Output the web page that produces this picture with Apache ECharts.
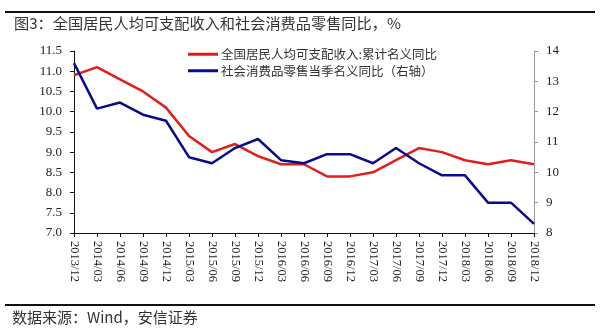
<!DOCTYPE html>
<html>
<head>
<meta charset="utf-8">
<script src="https://cdn.jsdelivr.net/npm/echarts@6/dist/echarts.min.js"></script>
<style>
html,body{margin:0;padding:0;background:#fff;}
#chart{width:600px;height:335px;}
</style>
</head>
<body>
<div id="chart"></div>
<script>
// Quarter-end categories
const quarters = ['2013/12','2014/03','2014/06','2014/09','2014/12','2015/03','2015/06','2015/09','2015/12',
  '2016/03','2016/06','2016/09','2016/12','2017/03','2017/06','2017/09','2017/12','2018/03','2018/06','2018/09','2018/12'];
// Per-capita disposable income, cumulative nominal YoY (%), left axis
const incomeYoY = [10.9,11.1,10.8,10.5,10.1,9.4,9.0,9.2,8.9,8.7,8.7,8.4,8.4,8.5,8.8,9.1,9.0,8.8,8.7,8.8,8.7];
// Retail sales of consumer goods, quarterly nominal YoY (%), right axis
const retailYoY = [13.6,12.1,12.3,11.9,11.7,10.5,10.3,10.8,11.1,10.4,10.3,10.6,10.6,10.3,10.8,10.3,9.9,9.9,9.0,9.0,8.3];

const serif = '"Liberation Serif","Noto Sans CJK SC",serif';
const cjk = '"Noto Sans CJK SC",sans-serif';

const chart = echarts.init(document.getElementById('chart'));
chart.setOption({
  animation: false,
  backgroundColor: '#fff',
  grid: {left: 74, right: 66, top: 51, bottom: 102},
  graphic: [
    {type: 'line', shape: {x1: 5, y1: 12, x2: 595, y2: 12}, style: {stroke: '#111', lineWidth: 2}},
    {type: 'text', left: 14, top: 16, style: {text: '图3：全国居民人均可支配收入和社会消费品零售同比，%', font: '15.2px ' + cjk, fill: '#333'}},
    {type: 'line', shape: {x1: 5, y1: 305, x2: 595, y2: 305}, style: {stroke: '#111', lineWidth: 2}},
    {type: 'text', left: 12, top: 310, style: {text: '数据来源：Wind，安信证券', font: '15px ' + cjk, fill: '#333'}}
  ],
  legend: {
    orient: 'vertical',
    left: 183,
    top: 43,
    itemWidth: 30,
    itemHeight: 3,
    itemGap: 4,
    icon: 'rect',
    textStyle: {fontFamily: cjk, fontSize: 12.5, color: '#333', padding: [0, 0, 0, -2]},
    data: ['全国居民人均可支配收入:累计名义同比', '社会消费品零售当季名义同比（右轴）']
  },
  xAxis: {
    type: 'category',
    data: quarters,
    boundaryGap: false,
    axisLine: {lineStyle: {color: '#111', width: 1}},
    axisTick: {show: true, alignWithLabel: true, length: 4, lineStyle: {color: '#111'}},
    axisLabel: {rotate: -90, interval: 0, fontFamily: serif, fontSize: 12.5, color: '#222', margin: 8}
  },
  yAxis: [
    {
      type: 'value', min: 7, max: 11.5, interval: 0.5, position: 'left',
      splitLine: {show: false},
      axisLine: {show: true, lineStyle: {color: '#111'}},
      axisTick: {show: true, length: 4, lineStyle: {color: '#111'}},
      axisLabel: {fontFamily: serif, fontSize: 13, color: '#222', margin: 12, formatter: v => v.toFixed(1)}
    },
    {
      type: 'value', min: 8, max: 14, interval: 1, position: 'right',
      splitLine: {show: false},
      axisLine: {show: true, lineStyle: {color: '#999'}},
      axisTick: {show: true, length: 4, lineStyle: {color: '#999'}},
      axisLabel: {fontFamily: serif, fontSize: 13, color: '#222', margin: 12}
    }
  ],
  series: [
    {
      name: '全国居民人均可支配收入:累计名义同比', type: 'line', yAxisIndex: 0,
      data: incomeYoY, symbol: 'none', color: '#e01e1e',
      lineStyle: {width: 2.5, color: '#e01e1e'}
    },
    {
      name: '社会消费品零售当季名义同比（右轴）', type: 'line', yAxisIndex: 1,
      data: retailYoY, symbol: 'none', color: '#0a0a8c',
      lineStyle: {width: 2.5, color: '#0a0a8c'}
    }
  ]
});
</script>
</body>
</html>
